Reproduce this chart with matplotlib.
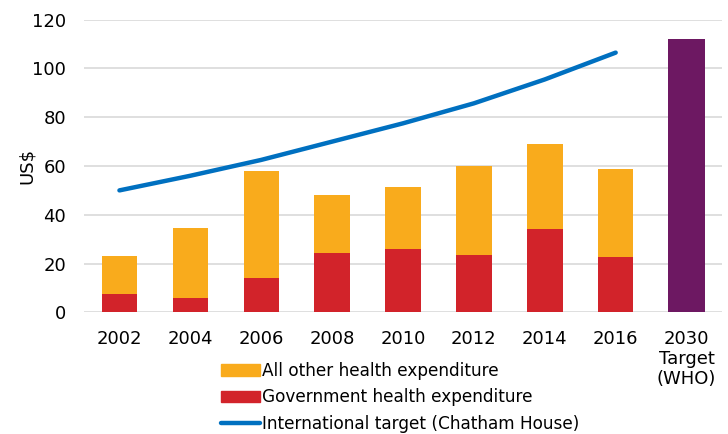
import matplotlib.pyplot as plt
from matplotlib.patches import Patch
from matplotlib.lines import Line2D
import numpy as np

# data
years = ['2002', '2004', '2006', '2008', '2010', '2012', '2014', '2016']
govt = [7.5, 5.8, 14.2, 24.3, 26.0, 23.6, 34.3, 22.6]
total = [23.0, 34.5, 58.0, 48.0, 51.5, 60.0, 68.9, 58.8]
target_line = [50.0, 56.0, 62.5, 70.0, 77.5, 85.7, 95.5, 106.5]
who_label = '2030\nTarget\n(WHO)'
who_target = 112.0

other = [t - g for t, g in zip(total, govt)]

plt.rcParams['font.family'] = ['DejaVu Sans']

fig = plt.figure(figsize=(7.28, 4.34), dpi=100)
ax = fig.add_axes([84 / 728, 1 - 312.3 / 434, 638 / 728, 292.6 / 434])

x = np.arange(len(years))
ax.bar(x, govt, width=0.5, color='#D2232A', zorder=3)
ax.bar(x, other, bottom=govt, width=0.5, color='#F9AB1C', zorder=3)
ax.bar(len(years), who_target, width=0.52, color='#6D1862', zorder=3)
ax.plot(x, target_line, color='#0070C0', lw=3.2, solid_capstyle='round', zorder=4)

ax.set_xlim(-0.5, len(years) + 0.5)
ax.set_ylim(0, 120)
ax.set_yticks(range(0, 121, 20))
ax.set_xticks(range(len(years) + 1))
ax.set_xticklabels(years + [who_label], linespacing=1.12)
ax.tick_params(axis='x', length=0, labelsize=13, pad=13)
ax.tick_params(axis='y', length=0, labelsize=13, pad=13)
ax.yaxis.grid(True, color='#D9D9D9', lw=1.2, zorder=0)
ax.set_axisbelow(True)
for s in ax.spines.values():
    s.set_visible(False)
ax.set_ylabel('US$', fontsize=13, labelpad=-3)

handles = [
    Patch(color='#F9AB1C', label='All other health expenditure'),
    Patch(color='#D2232A', label='Government health expenditure'),
    Line2D([], [], color='#0070C0', lw=3.2, solid_capstyle='round',
           label='International target (Chatham House)'),
]
fig.legend(handles=handles, loc='upper left', bbox_to_anchor=(221 / 728, 1 - 362 / 434),
           frameon=False, fontsize=12.2, handlelength=2.3, handleheight=0.66,
           handletextpad=0.12, labelspacing=0.5, borderaxespad=0, borderpad=0)

fig.savefig('out.png', dpi=100)
